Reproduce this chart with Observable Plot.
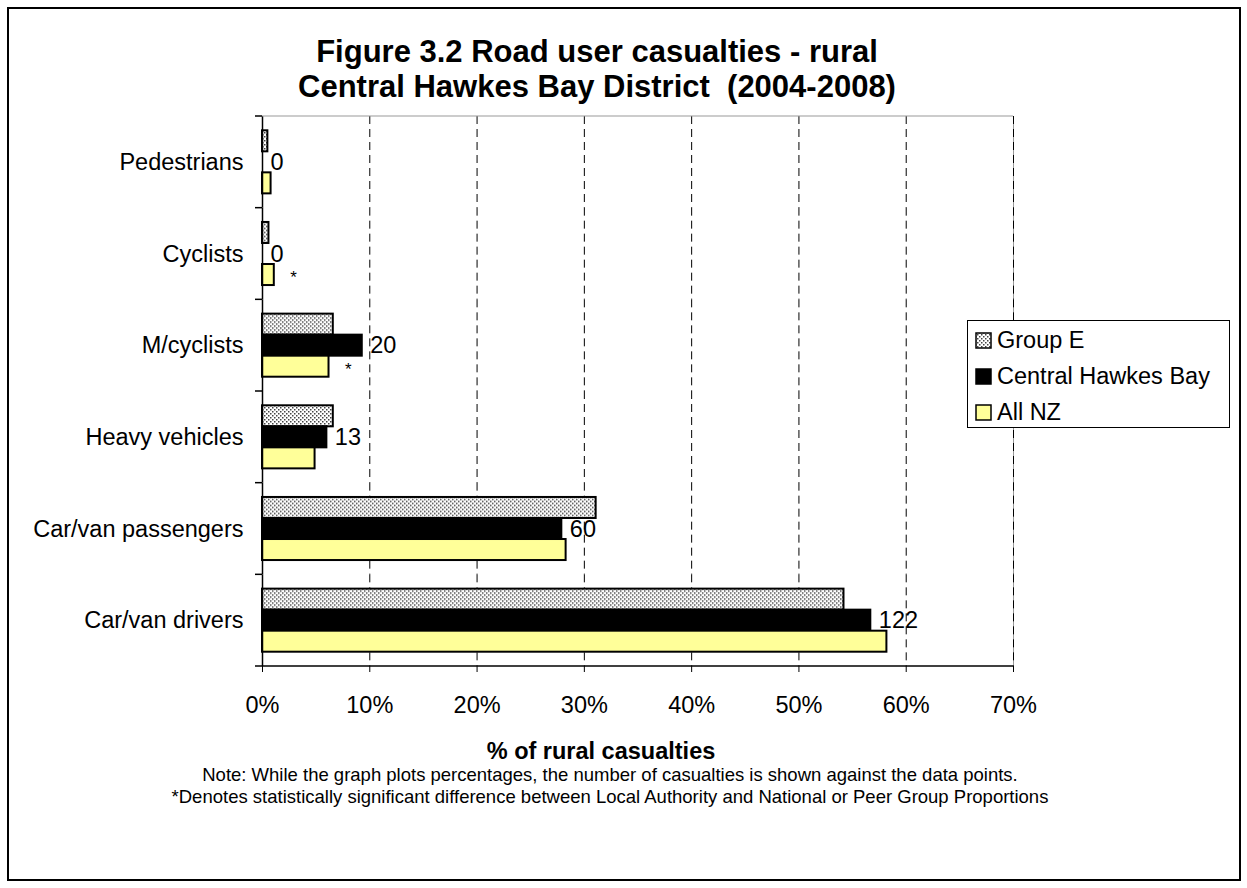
<!DOCTYPE html>
<html>
<head>
<meta charset="utf-8">
<script src="https://cdn.jsdelivr.net/npm/d3@7"></script>
<script src="https://cdn.jsdelivr.net/npm/@observablehq/plot@0.6"></script>
<style>
  body { margin: 0; background: #fff; font-family: Arial, "Liberation Sans", sans-serif; color: #000; }
  #wrap { position: relative; width: 1247px; height: 888px; overflow: hidden; }
  #frame { position: absolute; left: 7px; top: 7px; width: 1234px; height: 874px; border: 2px solid #000; box-sizing: border-box; }
  #title { position: absolute; left: 0; top: 34px; width: 1194px; text-align: center; font-weight: bold; font-size: 31px; line-height: 35px; }
  #chart { position: absolute; left: 0; top: 0; }
  #xlabel { position: absolute; left: 0; width: 1202px; top: 738px; text-align: center; font-weight: bold; font-size: 23.5px; line-height: 27px; }
  #notes { position: absolute; left: 0; width: 1220px; top: 764px; text-align: center; font-size: 18.5px; line-height: 22px; }
  #legend { position: absolute; left: 967px; top: 320px; width: 263px; height: 108px; border: 1.5px solid #000; box-sizing: border-box; background: #fff; }
  .item { position: absolute; left: 7px; height: 30px; display: flex; align-items: center; font-size: 23.5px; }
  .item svg { margin-right: 5px; }
</style>
</head>
<body>
<svg width="0" height="0" style="position:absolute">
  <defs>
    <pattern id="dotsE" width="4" height="4" patternUnits="userSpaceOnUse">
      <rect width="4" height="4" fill="#ffffff"></rect>
      <rect x="0" y="0" width="1.5" height="1.5" fill="#444"></rect>
      <rect x="2" y="2" width="1.5" height="1.5" fill="#444"></rect>
    </pattern>
  </defs>
</svg>
<div id="wrap">
  <div id="frame"></div>
  <div id="chart"></div>
  <div id="title">Figure 3.2 Road user casualties - rural<br>Central Hawkes Bay District&nbsp; (2004-2008)</div>
  <div id="xlabel">% of rural casualties</div>
  <div id="notes">Note: While the graph plots percentages, the number of casualties is shown against the data points.<br>*Denotes statistically significant difference between Local Authority and National or Peer Group Proportions</div>
  <div id="legend"></div>
</div>
<script>
// ---- data ----
const categories = ["Pedestrians", "Cyclists", "M/cyclists", "Heavy vehicles", "Car/van passengers", "Car/van drivers"];
const seriesNames = ["Group E", "Central Hawkes Bay", "All NZ"];
const groupE = [0.5, 0.6, 6.6, 6.6, 31.1, 54.2];
const centralHB = [0, 0, 9.3, 6.0, 27.9, 56.7];
const allNZ = [0.8, 1.1, 6.2, 4.9, 28.3, 58.2];
const chbCounts = [0, 0, 20, 13, 60, 122];
const significant = [false, true, true, false, false, false];
const xTicks = [0, 10, 20, 30, 40, 50, 60, 70];
const seriesFills = ["url(#dotsE)", "#000000", "#FFFF99"];

// ---- tables built from the arrays ----
const seriesValues = [groupE, centralHB, allNZ];
const rows = categories.flatMap((c, i) => seriesNames.map((s, j) => ({category: c, series: s, value: seriesValues[j][i]})));
const labelRows = categories.map((c, i) => ({category: c, series: "Central Hawkes Bay", value: centralHB[i], count: String(chbCounts[i])}));
const starRows = categories.map((c, i) => ({category: c, series: "All NZ", value: allNZ[i], sig: significant[i]})).filter(d => d.sig);

const plot = Plot.plot({
  width: 1247,
  height: 740,
  marginTop: 116,
  marginBottom: 74,
  marginLeft: 262,
  marginRight: 234,
  style: {fontFamily: "Arial, 'Liberation Sans', sans-serif", fontSize: "23.5px", color: "#000", background: "transparent", overflow: "visible"},
  x: {domain: [0, 70], ticks: xTicks, tickFormat: d => d + "%", tickSize: 6, tickPadding: 24, label: null},
  y: {domain: seriesNames, axis: null, paddingInner: 0, paddingOuter: 0.68, round: false},
  fy: {domain: categories, padding: 0, axis: "left", label: null, tickSize: 0, tickPadding: 19, round: false},
  color: {type: "ordinal", domain: seriesNames, range: seriesFills},
  marks: [
    Plot.ruleX([70], {stroke: "#999", strokeWidth: 1}),
    Plot.ruleX(xTicks.slice(1), {stroke: "#000", strokeWidth: 1, strokeDasharray: "8,5"}),
    Plot.barX(rows, {x: "value", y: "series", fy: "category", fill: "series", stroke: "#000", strokeWidth: 2}),
    Plot.text(labelRows, {x: "value", y: "series", fy: "category", text: "count", textAnchor: "start", dx: 8, fontSize: 23.5}),
    Plot.text(starRows, {x: "value", y: "series", fy: "category", text: () => "*", textAnchor: "start", dx: 16, dy: 3, fontSize: 17}),
    Plot.ruleX([0], {stroke: "#000", strokeWidth: 1.5})
  ]
});
document.getElementById("chart").appendChild(plot);

// category boundary ticks, plot-area top border and x-axis line, derived from the scales
const fyS = plot.scale("fy");
const xS = plot.scale("x");
const fyB = d3.scaleBand().domain(fyS.domain).range(fyS.range)
  .paddingInner(fyS.paddingInner ?? 0).paddingOuter(fyS.paddingOuter ?? 0).align(fyS.align ?? 0.5);
const bounds = categories.map(c => fyB(c)).concat([fyB(categories[categories.length - 1]) + fyB.bandwidth()]);
const x0 = xS.apply(0), x70 = xS.apply(70);
const g = d3.select(plot).append("g");
g.append("line").attr("x1", x0).attr("x2", x70).attr("y1", bounds[0]).attr("y2", bounds[0]).attr("stroke", "#999").attr("stroke-width", 1);
g.selectAll("line.ct").data(bounds).join("line").attr("class", "ct")
  .attr("x1", x0 - 7).attr("x2", x0).attr("y1", d => d).attr("y2", d => d).attr("stroke", "#000").attr("stroke-width", 1.5);
g.append("line").attr("x1", x0).attr("x2", x70).attr("y1", bounds[bounds.length - 1]).attr("y2", bounds[bounds.length - 1]).attr("stroke", "#000").attr("stroke-width", 1.5);

// legend
const legend = document.getElementById("legend");
seriesNames.forEach((s, i) => {
  const item = document.createElement("div");
  item.className = "item";
  item.style.top = (4 + i * 36) + "px";
  item.innerHTML = `<svg width="17" height="17"><rect x="1" y="1" width="15" height="15" fill="${seriesFills[i]}" stroke="#000" stroke-width="1.5"></rect></svg><span>${s}</span>`;
  legend.appendChild(item);
});
</script>
</body>
</html>
